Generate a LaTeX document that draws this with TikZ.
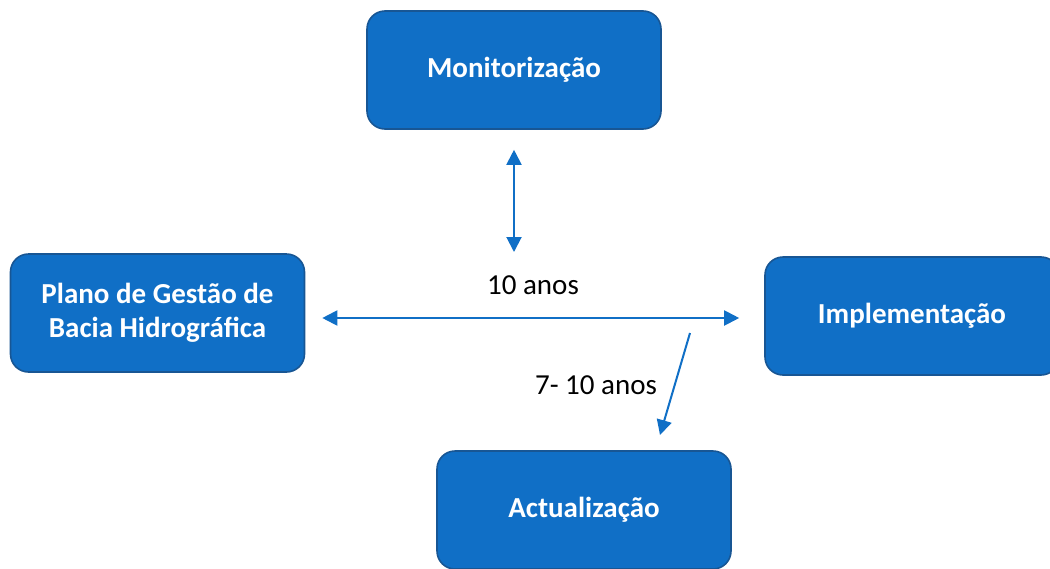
\documentclass[tikz,border=0pt]{standalone}
\usepackage{fontspec}
\setmainfont{Carlito}
\usetikzlibrary{arrows.meta,positioning}
\definecolor{boxblue}{RGB}{16,111,198}
\definecolor{boxedge}{RGB}{24,86,148}
\begin{document}
\begin{tikzpicture}[x=1pt,y=-1pt,
  blk/.style={draw=boxedge,line width=1.6pt,rounded corners=18pt,fill=boxblue,minimum width=294pt,minimum height=118pt,align=center,text=white,font=\fontsize{29}{34}\selectfont\bfseries,inner sep=2pt},
  dbl/.style={{Triangle[length=15pt,width=15pt]}-{Triangle[length=15pt,width=15pt]},line width=2pt,boxblue},
  arr/.style={-{Triangle[length=15pt,width=15pt]},line width=2pt,boxblue},
  lab/.style={font=\fontsize{29}{34}\selectfont,text=black}]
\useasboundingbox (0,0) rectangle (1050,568);
\node[blk] (mon) at (514,70) {Monitorização};
\node[blk] (plano) at (157.5,313) {Plano de Gestão de\\Bacia Hidrográfica};
\node[blk] (impl) at (912,316) {Implementação};
\node[blk] (act) at (584,510) {Actualização};
\coordinate (vtip) at (514,252);
\coordinate (dfrom) at (690,333);
\coordinate (dto) at (660,435);
\draw[dbl,shorten <=20pt] (mon.south) -- (vtip);
\draw[dbl,shorten <=17pt,shorten >=25pt] ([yshift=-5pt]plano.east) -- ([yshift=-2pt]impl.west);
\draw[arr] (dfrom) -- (dto);
\node[lab] (ten) at (533,285) {10 anos};
\node[lab] (seven) at (596,385) {7- 10 anos};
\end{tikzpicture}
\end{document}
